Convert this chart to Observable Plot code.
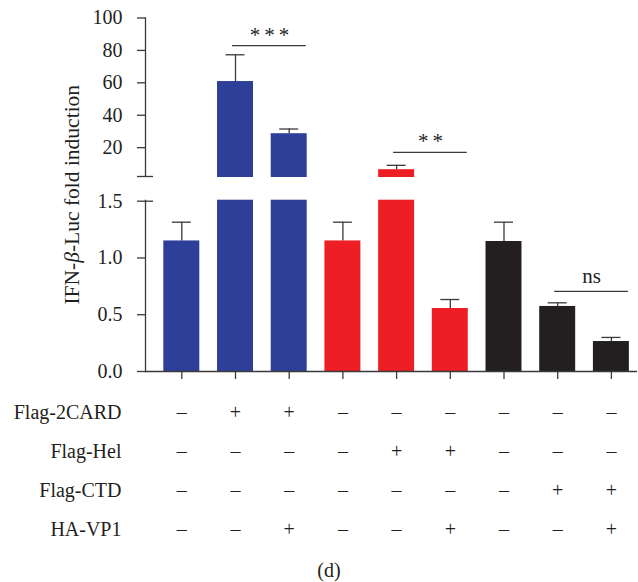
<!DOCTYPE html>
<html><head><meta charset="utf-8">
<script src="https://cdn.jsdelivr.net/npm/d3@7"></script>
<script src="https://cdn.jsdelivr.net/npm/@observablehq/plot@0.6"></script>
<style>
body{margin:0;background:#fff;font-family:"Liberation Serif",serif;color:#231f20}
svg{display:block}
#caption{font-size:20px;text-align:center;padding-left:20px;margin-top:14px;line-height:24px}
</style></head><body><div id="chart"></div><div id="caption">(d)</div>
<script>
// ---- data ----
const conditions = ["1","2","3","4","5","6","7","8","9"];
const groups = ["2CARD","2CARD","2CARD","Hel","Hel","Hel","CTD","CTD","CTD"];
const foldInduction = [1.15, 60.8, 28.6, 1.15, 6.4, 0.555, 1.145, 0.573, 0.264];
const errorSEM = [0.165, 16.5, 2.9, 0.165, 2.7, 0.079, 0.17, 0.032, 0.036];
const groupNames = ["2CARD","Hel","CTD"];
const groupColors = ["#2e3f9a","#ed1f24","#231f20"];
const yTicks = [0, 0.5, 1, 1.5, 20, 40, 60, 80, 100];
const yBreak = [1.5, 2.2];
const yLabel = "IFN-β-Luc fold induction";
const rowLabels = ["Flag-2CARD","Flag-Hel","Flag-CTD","HA-VP1"];
const flag2CARD = ["–","+","+","–","–","–","–","–","–"];
const flagHel   = ["–","–","–","–","+","+","–","–","–"];
const flagCTD   = ["–","–","–","–","–","–","–","+","+"];
const haVP1     = ["–","–","+","–","–","+","–","–","+"];
const sigFrom  = ["2","5","8"];
const sigTo    = ["3","6","9"];
const sigY     = [83, 17.1, 0.705];
const sigLabel = ["***","**","ns"];
const caption = "(d)";

// ---- build ----
const ink = "#3a3a3a";
const bars = conditions.map((c, i) => ({c, g: groups[i], v: foldInduction[i], e: errorSEM[i]}));
const sig = sigFrom.map((f, i) => ({from: f, to: sigTo[i], y: sigY[i], label: sigLabel[i]}));
const xOpts = () => ({type: "band", domain: conditions, range: [145.6, 646.6], padding: 0.33, align: 0.5, round: false, axis: null});
const font = "Liberation Serif, serif";

const main = Plot.plot({
  width: 638, height: 384, marginLeft: 145, marginRight: 1, marginTop: 17.5, marginBottom: 13,
  style: {fontFamily: font, fontSize: "20px", color: "#231f20", background: "#fff"},
  x: xOpts(),
  y: {type: "linear", domain: [0, yBreak[0], yBreak[1], 100], range: [371, 200.7, 176, 17.5], axis: null},
  color: {domain: groupNames, range: groupColors},
  marks: [
    Plot.frame({anchor: "left", stroke: ink, strokeWidth: 1.3}),
    Plot.barY(bars, {x: "c", y: "v", fill: "g"}),
    Plot.rect([yBreak], {y1: d => d[0], y2: d => d[1], fill: "white", insetLeft: -4, insetTop: 1, insetBottom: 1}),
    Plot.ruleX(bars, {x: "c", y1: "v", y2: d => d.v + d.e, stroke: ink, strokeWidth: 1.3}),
    Plot.tickY(bars, {x: "c", y: d => d.v + d.e, stroke: ink, strokeWidth: 1.3, insetLeft: 8.5, insetRight: 8.5}),
    Plot.ruleY([0], {stroke: ink, strokeWidth: 1.3}),
    Plot.axisY({ticks: yTicks, tickSize: 8, tickPadding: 15, stroke: ink, strokeWidth: 1.3, fontSize: 20,
      tickFormat: d => d < 2 ? d.toFixed(1) : String(d),
      label: yLabel, labelAnchor: "center", labelOffset: 82, labelArrow: "none"}),
    Plot.axisY({ticks: [yBreak[1]], tickSize: 8, stroke: ink, strokeWidth: 1.3, tickFormat: () => "", label: null}),
    Plot.axisY({ticks: yBreak, tickSize: -8, stroke: ink, strokeWidth: 1.3, tickFormat: () => "", label: null}),
    Plot.axisX({tickSize: 8, stroke: ink, strokeWidth: 1.3, tickFormat: () => "", label: null}),
    Plot.ruleY(sig, {x1: "from", x2: "to", y: "y", insetLeft: 15, insetRight: 1, stroke: ink, strokeWidth: 1.3}),
    Plot.text(sig.filter(d => d.label !== "ns"), {x: "from", y: "y", text: "label", dx: 36, dy: -4, lineAnchor: "bottom", fontSize: 21, fill: "#231f20"}),
    Plot.text(sig.filter(d => d.label === "ns"), {x: "from", y: "y", text: "label", dx: 34, dy: -8, lineAnchor: "bottom", fontSize: 21, fill: "#231f20"})
  ]
});

// italic beta in the y label, label size, star spacing
main.querySelectorAll("text").forEach(t => {
  if (t.textContent === yLabel) {
    const parts = yLabel.split("β");
    t.textContent = "";
    t.setAttribute("font-size", "21.5");
    const ns = "http://www.w3.org/2000/svg";
    const a = document.createElementNS(ns, "tspan"); a.textContent = parts[0];
    const b = document.createElementNS(ns, "tspan"); b.textContent = "β"; b.setAttribute("font-style", "italic");
    const c = document.createElementNS(ns, "tspan"); c.textContent = parts[1];
    t.append(a, b, c);
  } else if (/^\*+$/.test(t.textContent)) {
    t.setAttribute("letter-spacing", "4");
  }
});

const signs = [flag2CARD, flagHel, flagCTD, haVP1];
const cells = [];
rowLabels.forEach((r, j) => signs[j].forEach((s, i) => cells.push({row: r, c: conditions[i], s})));

const table = Plot.plot({
  width: 638, height: 160, marginLeft: 145, marginRight: 1, marginTop: 28, marginBottom: 15,
  style: {fontFamily: font, fontSize: "20px", color: "#231f20", background: "#fff"},
  x: xOpts(),
  y: {type: "point", domain: rowLabels, padding: 0, axis: null},
  marks: [
    Plot.axisY({tickSize: 0, tickPadding: 24, fontSize: 20, label: null}),
    Plot.text(cells, {x: "c", y: "row", text: "s", fontSize: 20, fill: "#231f20"})
  ]
});

const chart = document.getElementById("chart");
chart.append(main, table);
document.getElementById("caption").textContent = caption;
</script></body></html>
